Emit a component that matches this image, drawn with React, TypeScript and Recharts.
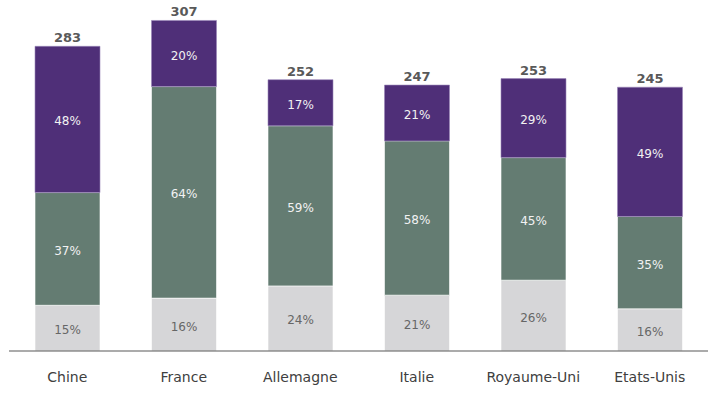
import { BarChart, Bar, XAxis, YAxis, LabelList } from 'recharts'

const categories = ['Chine', 'France', 'Allemagne', 'Italie', 'Royaume-Uni', 'Etats-Unis']
const totals = [283, 307, 252, 247, 253, 245]
const lowPct = [15, 16, 24, 21, 26, 16]
const midPct = [37, 64, 59, 58, 45, 35]
const highPct = [48, 20, 17, 21, 29, 49]

const FONT = 'DejaVu Sans, Verdana, sans-serif'

const data = categories.map((name, i) => ({
  name,
  total: totals[i],
  lowPct: lowPct[i],
  midPct: midPct[i],
  highPct: highPct[i],
  low: (totals[i] * lowPct[i]) / 100,
  mid: (totals[i] * midPct[i]) / 100,
  high: (totals[i] * highPct[i]) / 100,
}))

const pctLabel = (key: string, color: string) => (props: any) => {
  const { x, y, width, height, index } = props
  const v = (data[index] as any)[key]
  return (
    <text
      x={x + width / 2}
      y={y + height / 2 + 2}
      textAnchor="middle"
      dominantBaseline="central"
      fill={color}
      fontSize={12}
      fontFamily={FONT}
    >
      {v}%
    </text>
  )
}

const totalLabel = (props: any) => {
  const { x, y, width, index } = props
  return (
    <text
      x={x + width / 2}
      y={y - 4}
      textAnchor="middle"
      fill="#595959"
      fontSize={13}
      fontWeight="bold"
      fontFamily={FONT}
    >
      {data[index].total}
    </text>
  )
}

const CategoryTick = (props: any) => {
  const { x, y, payload } = props
  return (
    <text x={x} y={y + 23} textAnchor="middle" fill="#404040" fontSize={14} fontFamily={FONT}>
      {payload.value}
    </text>
  )
}

export default function App() {
  return (
    <div style={{ position: 'absolute', left: 0, top: 0, width: 713, height: 401, background: '#fff' }}>
      <BarChart
        width={713}
        height={401}
        data={data}
        margin={{ top: 0, right: 5, left: 9, bottom: 0 }}
        barSize={65}
      >
        <XAxis
          dataKey="name"
          height={50}
          tickLine={false}
          axisLine={{ stroke: '#595959', strokeWidth: 1.2 }}
          tick={<CategoryTick />}
          interval={0}
        />
        <YAxis hide domain={[0, 326]} />
        <Bar dataKey="low" stackId="a" fill="#d6d6d8" stroke="#fff" strokeWidth={0.6} isAnimationActive={false}>
          <LabelList dataKey="low" content={pctLabel('lowPct', '#666666')} />
        </Bar>
        <Bar dataKey="mid" stackId="a" fill="#647c72" stroke="#fff" strokeWidth={0.6} isAnimationActive={false}>
          <LabelList dataKey="mid" content={pctLabel('midPct', '#f2f2f2')} />
        </Bar>
        <Bar dataKey="high" stackId="a" fill="#4f2f78" stroke="#9a86b8" strokeWidth={0.6} isAnimationActive={false}>
          <LabelList dataKey="high" content={pctLabel('highPct', '#f2f2f2')} />
          <LabelList dataKey="high" content={totalLabel} />
        </Bar>
      </BarChart>
    </div>
  )
}
